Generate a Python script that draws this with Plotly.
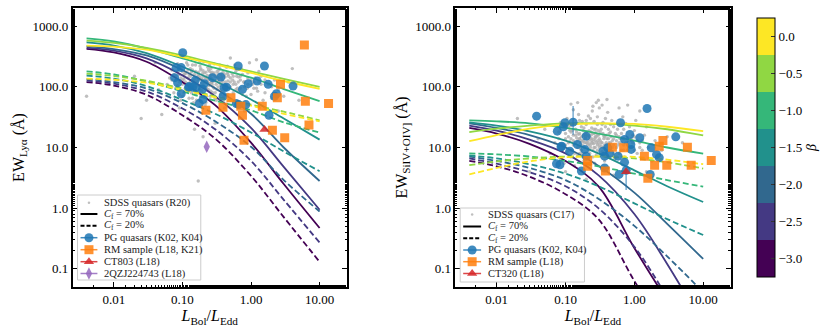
import plotly.graph_objects as go

# ---- beta grid and colours (viridis, 7 discrete levels) ----
betas = [-3.0, -2.5, -2.0, -1.5, -1.0, -0.5, 0.0]
beta_colors = ["#440154", "#443983", "#31688e", "#21918c", "#35b779", "#90d743", "#fde725"]

# ---- model curves: x grid (L_Bol / L_Edd) ----
ratio_grid = [0.004, 0.01, 0.03, 0.1, 0.3, 1.0, 3.0, 10.0]

# Ly alpha, C_f = 70%  (one list per beta, same order as betas)
lya_cf70 = [
    [425, 370, 260, 120, 50, 12, 2.5, 0.47],
    [445, 395, 295, 155, 70, 21, 4.8, 0.94],
    [470, 420, 330, 190, 95, 36, 10, 2.8],
    [540, 480, 360, 215, 125, 62, 30, 13.5],
    [630, 560, 430, 295, 205, 142, 92, 58],
    [580, 530, 440, 330, 245, 180, 135, 100],
    [480, 460, 410, 310, 235, 170, 125, 93],
]
# Ly alpha, C_f = 20%
lya_cf20 = [
    [120, 105, 74, 34, 14, 3.4, 0.71, 0.13],
    [127, 113, 84, 44, 20, 6.0, 1.37, 0.27],
    [134, 120, 94, 54, 27, 10.3, 2.9, 0.88],
    [154, 137, 103, 61, 36, 17.7, 8.6, 4.06],
    [180, 160, 123, 84, 59, 41, 26, 17.7],
    [166, 151, 126, 94, 70, 51, 39, 28],
    [137, 131, 117, 89, 67, 49, 36, 27],
]
# SiIV+OIV], C_f = 70%
si_cf70 = [
    [21, 17, 11.5, 6.0, 2.3, 0.22, 0.03, 0.004],
    [23, 19, 13.5, 8.0, 3.5, 0.8, 0.12, 0.012],
    [25, 21, 16, 10, 5.0, 1.8, 0.55, 0.145],
    [26, 23, 18.5, 13, 8.0, 4.2, 2.3, 1.26],
    [28, 27, 25, 21, 17, 13, 10, 7.9],
    [18, 20.5, 23, 25, 25, 23, 20, 15.8],
    [12.7, 16, 20.5, 24, 25, 24.5, 22, 18.6],
]
# SiIV+OIV], C_f = 20%
si_cf20 = [
    [6.0, 4.9, 3.3, 1.7, 0.66, 0.063, 0.009, 0.001],
    [6.6, 5.4, 3.9, 2.3, 1.0, 0.23, 0.034, 0.0034],
    [7.1, 6.0, 4.6, 2.9, 1.43, 0.51, 0.16, 0.041],
    [7.4, 6.6, 5.3, 3.7, 2.3, 1.2, 0.66, 0.36],
    [8.0, 7.7, 7.1, 6.0, 4.9, 3.7, 2.9, 2.26],
    [5.1, 5.9, 6.6, 7.1, 7.1, 6.6, 5.7, 4.5],
    [3.6, 4.6, 5.9, 6.9, 7.1, 7.0, 6.3, 5.3],
]

# ---- SDSS quasars (grey clouds) ----
sdss_lya_x = [0.08, 0.09, 0.1, 0.11, 0.12, 0.13, 0.14, 0.15, 0.16, 0.17, 0.18, 0.19, 0.2, 0.21, 0.22, 0.23,
              0.24, 0.25, 0.26, 0.27, 0.28, 0.3, 0.32, 0.34, 0.36, 0.38, 0.4, 0.42, 0.45, 0.48, 0.5, 0.55,
              0.6, 0.65, 0.7, 0.75, 0.8, 0.9, 1.0, 1.1, 1.2, 1.4, 1.6, 1.8, 2.0, 2.5, 3.0,
              0.06, 0.07, 0.075, 0.085, 0.095, 0.105, 0.115, 0.125, 0.135, 0.145, 0.155, 0.165, 0.175,
              0.185, 0.195, 0.205, 0.215, 0.225, 0.235, 0.245, 0.255, 0.265, 0.29, 0.31, 0.33, 0.35, 0.37,
              0.39, 0.41, 0.44, 0.46, 0.52, 0.58, 0.62, 0.68, 0.72, 0.85, 0.95, 1.05, 1.3, 1.5, 2.2,
              0.03, 0.04, 0.05, 0.02, 0.045, 0.12, 0.3, 0.5, 0.8, 1.2, 3.5, 5.0, 0.15, 0.004, 0.025, 0.09,
              2.5, 4.0, 0.17, 0.2, 0.11, 0.17, 0.23, 0.14, 0.33, 0.19, 0.27, 0.45, 0.12, 0.21,
              0.09, 0.1, 0.11, 0.12, 0.13, 0.14, 0.15, 0.16, 0.17, 0.18, 0.19, 0.2, 0.21, 0.22, 0.23, 0.24,
              0.25, 0.26, 0.27, 0.28, 0.29, 0.3, 0.31, 0.32, 0.33, 0.35, 0.37, 0.39, 0.41, 0.43, 0.47, 0.5,
              0.53, 0.57, 0.63, 0.66, 0.78, 0.88, 1.15, 1.25,
              0.085, 0.095, 0.105, 0.115, 0.125, 0.135, 0.145, 0.155, 0.165, 0.175, 0.185, 0.195, 0.205,
              0.215, 0.225, 0.235, 0.245, 0.255, 0.265, 0.275, 0.34, 0.36, 0.38, 0.42, 0.46, 0.54, 0.6,
              0.7, 0.9, 1.4,
              0.07, 0.075, 0.08, 0.085, 0.09, 0.095, 0.1, 0.105, 0.11, 0.115, 0.12, 0.125, 0.13, 0.135,
              0.14, 0.145, 0.15, 0.155, 0.16, 0.165, 0.17, 0.175, 0.18, 0.185, 0.19, 0.195, 0.2, 0.21,
              0.215, 0.22, 0.23, 0.24, 0.25, 0.26, 0.27, 0.28, 0.29, 0.3, 0.31, 0.32, 0.34, 0.35, 0.36,
              0.38, 0.4, 0.42, 0.44, 0.46, 0.5, 0.55, 0.6, 0.65, 0.7, 0.8, 0.9, 1.0, 1.1, 1.3, 0.16, 0.22,
              0.12, 0.18, 0.25, 0.35, 0.45, 0.6, 0.1, 0.14, 0.3, 0.4, 0.55, 0.75, 1.6, 2.0, 0.065, 0.07]
sdss_lya_y = [150, 120, 180, 95, 140, 200, 110, 160, 85, 130, 220, 100, 150, 75, 175, 120,
              90, 140, 200, 110, 160, 80, 130, 190, 105, 150, 70, 120, 170, 95, 140, 110,
              180, 85, 130, 160, 100, 140, 75, 120, 95, 150, 80, 110, 65, 90, 70,
              110, 190, 80, 240, 60, 135, 250, 65, 175, 55, 230, 145, 60,
              190, 115, 260, 50, 95, 210, 135, 70, 165, 240, 60, 100, 230, 85,
              175, 45, 210, 125, 60, 230, 150, 55, 200, 70, 250, 110, 180, 60, 130,
              60, 250, 35, 150, 90, 30, 25, 300, 40, 280, 120, 60, 20, 70, 30, 45,
              40, 200, 2.8, 15, 165, 105, 135, 125, 145, 88, 118, 108, 112, 98,
              160, 110, 170, 85, 125, 190, 100, 145, 175, 90, 135, 185, 120, 95, 155, 115,
              180, 85, 135, 100, 170, 125, 150, 90, 165, 115, 140, 95, 160, 110, 150, 100,
              165, 120, 95, 145, 120, 95, 140, 85,
              105, 140, 80, 115, 160, 95, 125, 75, 110, 150, 70, 165, 105,
              140, 70, 130, 105, 155, 120, 80, 140, 75, 120, 95, 75, 130, 110,
              95, 110, 110,
              130, 160, 95, 180, 75, 200, 130, 160, 120, 90, 190, 110, 150, 80,
              230, 100, 135, 180, 120, 80, 160, 105, 140, 200, 85, 130, 100, 170,
              120, 145, 90, 190, 115, 140, 175, 125, 95, 150, 110, 180, 120, 90, 160,
              130, 105, 145, 90, 160, 120, 150, 90, 120, 150, 120, 170, 130, 95, 120, 60, 55,
              230, 260, 230, 200, 220, 200, 70, 65, 65, 55, 80, 75, 130, 100, 140, 100]

sdss_si_x = [0.07, 0.08, 0.09, 0.1, 0.11, 0.12, 0.13, 0.14, 0.15, 0.16, 0.17, 0.18, 0.19, 0.2, 0.21,
             0.22, 0.23, 0.24, 0.25, 0.26, 0.27, 0.28, 0.29, 0.3, 0.32, 0.34, 0.36, 0.38, 0.4, 0.42, 0.44,
             0.46, 0.48, 0.5, 0.55, 0.6, 0.65, 0.7, 0.75, 0.8, 0.9, 1.0, 1.1, 1.2, 1.4, 1.6, 1.8, 2.0,
             0.085, 0.095, 0.105, 0.115, 0.125, 0.135, 0.145, 0.155, 0.165, 0.175, 0.185, 0.195, 0.205,
             0.215, 0.225, 0.235, 0.245, 0.255, 0.265, 0.275, 0.31, 0.33, 0.35, 0.37, 0.39, 0.41, 0.43,
             0.47, 0.52, 0.57, 0.62, 0.68, 0.72, 0.85, 0.95, 1.05, 1.3, 1.5, 2.5, 3.0,
             0.05, 0.06, 0.04, 0.3, 0.28, 0.34, 0.25, 0.4, 0.02, 0.03, 0.6, 1.2, 0.15, 5.0, 0.1, 0.5,
             1.5, 0.2, 0.8, 0.13, 0.12, 0.22, 0.27, 0.31, 0.18, 0.36, 0.24, 0.44, 0.16, 0.29,
             0.1, 0.11, 0.12, 0.13, 0.14, 0.15, 0.16, 0.17, 0.18, 0.19, 0.2, 0.21, 0.22, 0.23, 0.24,
             0.25, 0.26, 0.27, 0.28, 0.29, 0.3, 0.31, 0.32, 0.33, 0.35, 0.37, 0.39, 0.41, 0.43, 0.45,
             0.5, 0.55, 0.6, 0.65, 0.7, 0.8, 0.9, 1.1, 0.12, 0.15,
             0.135, 0.155, 0.175, 0.195, 0.215, 0.235, 0.255, 0.275, 0.295, 0.34, 0.38, 0.42, 0.48,
             0.53, 0.58, 0.75, 0.95, 1.2, 0.11, 0.17,
             0.08, 0.09, 0.1, 0.105, 0.11, 0.115, 0.12, 0.125, 0.13, 0.135, 0.14, 0.145, 0.15, 0.155,
             0.16, 0.165, 0.17, 0.175, 0.18, 0.185, 0.19, 0.195, 0.2, 0.21, 0.215, 0.22, 0.23, 0.24,
             0.25, 0.26, 0.27, 0.28, 0.29, 0.3, 0.31, 0.33, 0.35, 0.37, 0.4, 0.42, 0.45, 0.5, 0.55, 0.6,
             0.65, 0.7, 0.8, 0.9, 1.0, 1.3,
             0.14, 0.2, 0.26, 0.34, 0.45, 0.18, 0.25, 0.32, 0.5, 0.12, 0.7, 1.0, 0.38, 0.16, 0.23, 0.29]
sdss_si_y = [12, 18, 9, 14, 22, 7, 11, 16, 25, 8, 13, 19, 10, 28, 6.5,
             15, 11, 21, 9, 17, 13, 7.5, 24, 12, 18, 8.5, 14, 30, 11, 20, 7,
             15, 10, 22, 13, 8, 17, 11, 25, 9, 14, 19, 8, 12, 16, 10, 6, 13,
             26, 5.5, 30, 12.5, 19, 5, 14.5, 35, 9.5, 27, 6, 16.5, 12,
             33, 8, 18, 40, 13.5, 5.5, 20, 45, 10.5, 26, 6, 16, 38, 12,
             28, 6.5, 20, 14, 32, 7, 22, 12, 28, 9, 22, 9, 15,
             20, 8, 14, 60, 55, 50, 48, 62, 30, 4, 45, 40, 55, 12, 4, 3.5,
             4, 3, 50, 42, 52, 11.5, 14.5, 10, 12.5, 15.5, 13, 11, 14, 16,
             11, 15, 9, 13, 20, 10, 14, 9, 16, 12, 18, 11, 9, 14, 12,
             17, 10, 15, 12, 9, 16, 11, 13, 20, 10, 15, 12, 9, 17, 12,
             14, 10, 15, 12, 9, 14, 10, 13, 18, 7.5,
             11.5, 16.5, 11, 14, 9.5, 16, 11.5, 17.5, 13, 12, 10, 14, 13,
             17, 11, 12, 16, 10, 9, 22,
             14, 11, 17, 8.5, 12, 19, 14, 9, 16, 8, 12, 18, 13, 10,
             17, 12, 15, 8, 13, 21, 10, 15, 12, 16, 13, 19, 10, 14,
             12, 20, 10, 15, 11, 19, 14, 12, 17, 11, 14, 10, 18, 11, 16, 12,
             9, 14, 11, 13, 9, 13,
             25, 24, 27, 24, 24, 7, 7, 7.5, 8, 23, 20, 15, 22, 28, 30, 32]

# ---- PG quasars (K02, K04) ----
pg_lya_x = [0.101, 0.081, 0.096, 0.077, 0.085, 0.096, 0.126, 0.158, 0.154, 0.208, 0.196, 0.2, 0.176,
            0.364, 0.405, 0.44, 0.392, 0.65, 0.75, 0.61, 0.66, 0.84, 0.91, 1.23, 1.57, 1.78, 2.35, 2.2,
            1.83, 4.1, 0.123, 0.141, 0.275]
pg_lya_y = [367, 208, 208, 142, 117, 77, 101, 97, 128, 113, 91, 62, 53,
            145, 97, 99, 70, 221, 91, 53, 51, 51, 113, 125, 221, 110, 77, 70,
            34, 103, 99, 99, 142]

pg_si_x = [0.038, 0.076, 0.098, 0.093, 0.129, 0.086, 0.083, 0.115, 0.149, 0.2, 0.19, 0.35, 0.44,
           0.63, 0.72, 0.86, 0.89, 0.9, 1.2, 1.53, 1.76, 4.0, 0.58, 0.72, 0.37, 0.41, 0.074, 0.088,
           0.2, 0.17, 0.37, 0.6, 1.7, 2.1, 2.3, 0.76]
pg_si_y = [32.9, 18.6, 25.6, 22, 26.2, 10.3, 5.2, 8.7, 11.2, 15.4, 9.3, 8.7, 8.0,
           25.6, 13.6, 16.4, 11.2, 9.3, 14.5, 44, 9.9, 15.0, 7.2, 5.7, 7.2, 9.9, 5.4, 10.5,
           7.2, 4.1, 4.6, 3.6, 3.6, 7.7, 6.8, 4.2]
pg_si_err_up = [0, 0, 0, 0, 22, 0, 0, 0, 0, 0, 0, 0, 0,
                0, 0, 0, 0, 0, 0, 0, 0, 0, 0, 0, 0, 0, 0, 0,
                0, 0, 0, 0, 0, 0, 0, 0]
pg_si_err_down = [0, 0, 0, 0, 10, 0, 0, 0, 0, 0, 0, 0, 0,
                  0, 0, 0, 0, 0, 0, 0, 0, 0, 0, 0, 0, 0, 0, 0,
                  0, 0, 0, 0, 0, 0, 0, 2.2]

# ---- RM sample ----
rm_lya_x = [6.0, 2.69, 2.42, 6.2, 13.5, 0.51, 0.39, 0.71, 1.46, 0.75, 0.22, 2.05, 7.0, 3.1, 0.79]
rm_lya_y = [491, 110, 66, 58, 53, 66, 46, 48, 48, 34, 41, 19.3, 23.4, 14.5, 13.2]

rm_si_x = [0.48, 0.7, 2.6, 2.3, 5.9, 1.4, 1.97, 2.96, 6.7, 13.1, 0.21, 0.21, 0.38, 1.57]
rm_si_y = [10.1, 9.9, 13, 10.5, 10.1, 7.2, 5.1, 5.1, 5.1, 6.1, 6.1, 4.9, 4.1, 3.1]

# ---- single objects ----
ct803_x, ct803_y = [1.57], [19.9]
qzj_x, qzj_y = [0.226], [10.3]
ct320_x, ct320_y = [0.76], [4.0]

x_tickvals = [0.01, 0.1, 1, 10]
x_ticktext = ["0.01", "0.10", "1.00", "10.00"]
y_tickvals = [0.1, 1, 10, 100, 1000]
y_ticktext = ["0.1", "1.0", "10.0", "100.0", "1000.0"]
cbar_ticktext = ["\u22123.0", "\u22122.5", "\u22122.0", "\u22121.5", "\u22121.0", "\u22120.5", "0.0"]

FONT = "Liberation Serif"
BLUE = "rgba(31,119,180,0.85)"
ORANGE = "rgba(255,127,14,0.85)"
RED = "rgba(214,39,40,0.85)"
PURPLE = "rgba(148,103,189,0.85)"
GREY = "rgba(175,175,175,0.8)"

fig = go.Figure()


def add_panel(xa, ya, cf70, cf20, sx, sy):
    fig.add_trace(go.Scatter(x=sx, y=sy, mode="markers", xaxis=xa, yaxis=ya, showlegend=False,
                             marker=dict(size=3.4, color=GREY)))
    for i, col in enumerate(beta_colors):
        fig.add_trace(go.Scatter(x=ratio_grid, y=cf70[i], mode="lines", xaxis=xa, yaxis=ya,
                                 showlegend=False, line=dict(color=col, width=1.8, shape="spline")))
        fig.add_trace(go.Scatter(x=ratio_grid, y=cf20[i], mode="lines", xaxis=xa, yaxis=ya,
                                 showlegend=False,
                                 line=dict(color=col, width=1.8, dash="6px,3px", shape="spline")))


add_panel("x", "y", lya_cf70, lya_cf20, sdss_lya_x, sdss_lya_y)
add_panel("x2", "y2", si_cf70, si_cf20, sdss_si_x, sdss_si_y)

# data points, left
fig.add_trace(go.Scatter(x=pg_lya_x, y=pg_lya_y, mode="markers", showlegend=False,
                         marker=dict(size=9, color=BLUE)))
fig.add_trace(go.Scatter(x=rm_lya_x, y=rm_lya_y, mode="markers", showlegend=False,
                         marker=dict(size=9, symbol="square", color=ORANGE)))
fig.add_trace(go.Scatter(x=ct803_x, y=ct803_y, mode="markers", showlegend=False,
                         marker=dict(size=9, symbol="triangle-up", color=RED)))
fig.add_trace(go.Scatter(x=qzj_x, y=qzj_y, mode="markers", showlegend=False,
                         marker=dict(size=9, symbol="diamond-tall", color=PURPLE)))
# data points, right
fig.add_trace(go.Scatter(x=pg_si_x, y=pg_si_y, mode="markers", xaxis="x2", yaxis="y2", showlegend=False,
                         error_y=dict(type="data", array=pg_si_err_up, arrayminus=pg_si_err_down,
                                      color="rgba(31,119,180,0.6)", thickness=1.5, width=0),
                         marker=dict(size=9, color=BLUE)))
fig.add_trace(go.Scatter(x=rm_si_x, y=rm_si_y, mode="markers", xaxis="x2", yaxis="y2", showlegend=False,
                         marker=dict(size=9, symbol="square", color=ORANGE)))
fig.add_trace(go.Scatter(x=ct320_x, y=ct320_y, mode="markers", xaxis="x2", yaxis="y2", showlegend=False,
                         marker=dict(size=9, symbol="triangle-up", color=RED)))


# ---- hand-built legends, drawn on an overlay axis in pixel units ----
def draw_legend(box, row_y, handle, entries):
    x0, y0, x1, y1 = box
    fig.add_trace(go.Scatter(x=[x0, x1, x1, x0, x0], y=[y0, y0, y1, y1, y0], mode="lines", fill="toself",
                             fillcolor="rgba(255,255,255,0.85)", line=dict(color="#cccccc", width=1),
                             xaxis="x3", yaxis="y3", showlegend=False, hoverinfo="skip"))
    hx0, hx1, tx = handle
    for (label, kind, col, sym), yy in zip(entries, row_y):
        if kind == "dot":
            fig.add_trace(go.Scatter(x=[(hx0 + hx1) / 2], y=[yy], mode="markers", xaxis="x3", yaxis="y3",
                                     showlegend=False, marker=dict(size=2.5, color=col)))
        else:
            dash = "4px,2px" if kind == "dash" else "solid"
            fig.add_trace(go.Scatter(x=[hx0, hx1], y=[yy, yy], mode="lines", xaxis="x3", yaxis="y3",
                                     showlegend=False, line=dict(color=col, width=2 if sym is None else 1.5,
                                                                 dash=dash)))
            if sym is not None:
                fig.add_trace(go.Scatter(x=[(hx0 + hx1) / 2], y=[yy], mode="markers", xaxis="x3",
                                         yaxis="y3", showlegend=False,
                                         marker=dict(size=9, symbol=sym, color=col)))
        fig.add_annotation(x=tx, y=yy, xref="x3", yref="y3", text=label, showarrow=False, xanchor="left",
                           yanchor="middle", font=dict(family=FONT, size=10.5, color="#222"))


cf70_label = "<i>C</i><sub>f</sub> = 70%"
cf20_label = "<i>C</i><sub>f</sub> = 20%"
draw_legend((78, 195, 202, 280), [202.7, 214, 225.7, 237.7, 249.7, 261.7, 273.5], (81, 98, 103),
            [("SDSS quasars (R20)", "dot", GREY, None),
             (cf70_label, "line", "black", None),
             (cf20_label, "dash", "black", None),
             ("PG quasars (K02, K04)", "line", BLUE, "circle"),
             ("RM sample (L18, K21)", "line", ORANGE, "square"),
             ("CT803 (L18)", "line", RED, "triangle-up"),
             ("2QZJ224743 (L18)", "line", PURPLE, "diamond-tall")])
draw_legend((463, 208, 588, 282), [214.5, 226.5, 238.3, 250, 261.7, 273.5], (466, 484, 489),
            [("SDSS quasars (C17)", "dot", GREY, None),
             (cf70_label, "line", "black", None),
             (cf20_label, "dash", "black", None),
             ("PG quasars (K02, K04)", "line", BLUE, "circle"),
             ("RM sample (L18)", "line", ORANGE, "square"),
             ("CT320 (L18)", "line", RED, "triangle-up")])

# colourbar
cscale = []
for i, c in enumerate(beta_colors):
    cscale += [[i / 7, c], [(i + 1) / 7, c]]
fig.add_trace(go.Scatter(x=[None], y=[None], mode="markers", showlegend=False,
                         marker=dict(color=[0], colorscale=cscale, cmin=-3.25, cmax=0.25, showscale=True,
                                     colorbar=dict(x=752 / 830, xanchor="left", y=1 - 8 / 333, yanchor="top",
                                                   len=279 / 333, lenmode="fraction", thickness=18,
                                                   outlinecolor="black", outlinewidth=1,
                                                   tickvals=betas, ticktext=cbar_ticktext,
                                                   ticks="inside", ticklen=4, tickcolor="#333",
                                                   tickfont=dict(family=FONT, size=13, color="black"),
                                                   title=dict(text="<i>β</i>", side="right",
                                                              font=dict(family=FONT, size=14))))))

axis_common = dict(type="log", showline=True, linecolor="black", linewidth=1.5, mirror="allticks",
                   ticks="inside", ticklen=5, tickwidth=1, tickcolor="black", showgrid=False, zeroline=False,
                   tickfont=dict(family=FONT, size=13, color="black"),
                   minor=dict(ticks="inside", ticklen=2.5, tickwidth=0.8, tickcolor="black", showgrid=False))
xr = [-2.602, 1.398]
yr = [-1.301, 3.301]
xtitle = "<i>L</i><sub>Bol</sub>/<i>L</i><sub>Edd</sub>"

fig.update_layout(
    width=830, height=333, margin=dict(l=0, r=0, t=0, b=0),
    paper_bgcolor="white", plot_bgcolor="rgba(0,0,0,0)",
    font=dict(family=FONT, size=13, color="black"),
    showlegend=False,
    xaxis=dict(axis_common, domain=[73 / 830, 349 / 830], range=xr, anchor="y",
               tickvals=x_tickvals, ticktext=x_ticktext, title=dict(text=xtitle, standoff=2)),
    yaxis=dict(axis_common, domain=[1 - 287 / 333, 1 - 8 / 333], range=yr, anchor="x",
               tickvals=y_tickvals, ticktext=y_ticktext,
               title=dict(text="EW<sub>Lyα</sub> (Å)", standoff=4)),
    xaxis2=dict(axis_common, domain=[458 / 830, 735 / 830], range=xr, anchor="y2",
                tickvals=x_tickvals, ticktext=x_ticktext, title=dict(text=xtitle, standoff=2)),
    yaxis2=dict(axis_common, domain=[1 - 287 / 333, 1 - 8 / 333], range=yr, anchor="x2",
                tickvals=y_tickvals, ticktext=y_ticktext,
                title=dict(text="EW<sub>SiIV+OIV]</sub> (Å)", standoff=4)),
    xaxis3=dict(domain=[0, 1], range=[0, 830], visible=False, anchor="y3", fixedrange=True),
    yaxis3=dict(domain=[0, 1], range=[333, 0], visible=False, anchor="x3", fixedrange=True),
)

fig.write_html("out.html", config={"displayModeBar": False},
               post_script="document.body.style.margin='0';document.body.style.padding='0';")
